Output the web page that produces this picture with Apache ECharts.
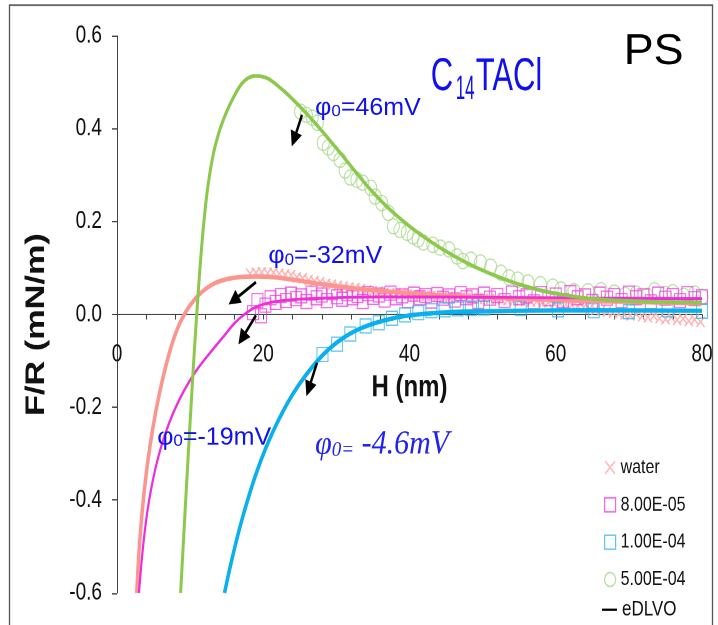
<!DOCTYPE html>
<html><head><meta charset="utf-8">
<script src="https://cdn.jsdelivr.net/npm/echarts@6/dist/echarts.min.js"></script>
<style>
html,body{margin:0;padding:0;background:#fff;overflow:hidden;width:718px;height:625px;}
#wrap{width:718px;height:625px;overflow:hidden;position:relative;background:#fff;}
#chart{width:718px;height:492px;transform:scaleY(1.2703);transform-origin:0 0;}
</style></head><body><div id="wrap"><div id="chart"></div></div>
<script>
// ---------- data ----------
const xTickValues = [0, 20, 40, 60, 80];
const yTickValues = [-0.6, -0.4, -0.2, 0.0, 0.2, 0.4, 0.6];

// eDLVO fits
const lineWaterH = [2.7, 3.1, 3.6, 4.2, 4.9, 5.7, 6.6, 7.6, 8.7, 10.0, 11.5, 13.2, 15.0, 17.0, 19.0, 21.5, 24.5, 28, 32, 36, 40, 45, 50, 60, 70, 80];
const lineWaterF = [-0.6, -0.49, -0.40, -0.318, -0.245, -0.178, -0.116, -0.06, -0.015, 0.020, 0.047, 0.066, 0.076, 0.081, 0.082, 0.080, 0.074, 0.065, 0.057, 0.051, 0.046, 0.041, 0.037, 0.031, 0.027, 0.024];

const line8e5H = [3.0, 3.5, 4.1, 4.8, 5.6, 6.6, 7.8, 9.2, 10.8, 12.6, 14.6, 16.0, 17.4, 19.0, 21, 24, 28, 32, 40, 50, 60, 70, 80];
const line8e5F = [-0.6, -0.51, -0.43, -0.365, -0.31, -0.257, -0.208, -0.163, -0.122, -0.085, -0.047, -0.02, 0.0, 0.016, 0.026, 0.032, 0.035, 0.037, 0.038, 0.037, 0.036, 0.035, 0.034];

const line1e4H = [14.7, 15.9, 17.3, 19.2, 21.4, 24.1, 27.4, 30.1, 33.3, 37.8, 42.5, 47, 55, 65, 80];
const line1e4F = [-0.6, -0.515, -0.43, -0.335, -0.25, -0.17, -0.10, -0.06, -0.03, -0.008, 0.002, 0.006, 0.008, 0.009, 0.008];

const line5e4H = [8.7, 9.5, 10.3, 10.9, 11.6, 12.3, 13.1, 14.0, 15.0, 16.0, 17.0, 18.0, 19.0, 20.0, 21, 23, 25, 27, 29, 31, 33, 35, 37, 39, 41, 43, 45, 47, 49, 51.5, 54, 56.5, 59, 62, 65, 70, 75, 80];
const line5e4F = [-0.6, -0.37, -0.15, 0.0, 0.15, 0.26, 0.34, 0.395, 0.437, 0.47, 0.496, 0.51, 0.514, 0.512, 0.505, 0.479, 0.448, 0.414, 0.377, 0.339, 0.30, 0.263, 0.231, 0.203, 0.178, 0.156, 0.136, 0.118, 0.102, 0.085, 0.07, 0.058, 0.048, 0.04, 0.034, 0.029, 0.027, 0.025];

// measured points
const waterH = [18.2,19.0,19.8,20.6,21.4,22.2,23.0,23.8,24.6,25.4,26.2,27.0,27.8,28.6,29.4,30.2,31.0,31.8,32.6,33.4,34.2,35.0,35.8,36.6,37.4,38.2,39.0,39.8,40.6,41.4,42.2,43.0,43.8,44.6,45.4,46.2,47.0,47.8,48.6,49.4,50.2,51.0,51.8,52.6,53.4,54.2,55.0,55.8,56.6,57.4,58.2,59.0,59.8,60.6,61.4,62.2,63.0,63.8,64.6,65.4,66.2,67.0,67.8,68.6,69.4,70.2,71.0,71.8,72.6,73.4,74.2,75.0,75.8,76.6,77.4,78.2,79.0,79.8];
const waterF = [0.088,0.090,0.091,0.089,0.090,0.088,0.086,0.085,0.080,0.078,0.074,0.072,0.070,0.066,0.064,0.062,0.060,0.058,0.057,0.055,0.052,0.050,0.049,0.047,0.046,0.045,0.044,0.043,0.042,0.041,0.040,0.040,0.039,0.038,0.038,0.037,0.036,0.036,0.035,0.034,0.034,0.033,0.033,0.032,0.031,0.030,0.030,0.029,0.028,0.028,0.027,0.026,0.025,0.024,0.022,0.020,0.018,0.015,0.012,0.010,0.008,0.006,0.004,0.002,0.000,-0.002,0.001,-0.004,-0.006,-0.003,-0.008,-0.010,-0.006,-0.012,-0.009,-0.014,-0.011,-0.016];

const c8e5H = [18.6,19.2,19.7,20.3,21.0,21.7,22.4,23.1,23.8,24.5,25.2,25.9,26.6,27.3,28.0,28.7,29.4,30.1,30.8,31.5,32.2,32.9,33.6,34.3,35.0,35.8,36.6,37.4,38.2,39.0,39.8,40.6,41.4,42.2,43.0,43.8,44.6,45.4,46.2,47.0,47.8,48.6,49.4,50.2,51.0,52.0,53.0,54.0,55.0,56.0,57.0,58.0,59.0,60.0,61.0,62.0,63.0,64.0,65.0,66.0,67.0,68.0,69.0,70.0,71.0,72.0,73.0,74.0,75.0,76.0,77.0,78.0,79.0,80.0];
const c8e5F = [0.004,0.030,-0.003,0.020,0.036,0.026,0.041,0.030,0.044,0.034,0.040,0.028,0.046,0.036,0.042,0.030,0.047,0.038,0.033,0.045,0.036,0.041,0.028,0.045,0.037,0.042,0.031,0.046,0.036,0.040,0.030,0.044,0.036,0.041,0.029,0.043,0.035,0.040,0.031,0.045,0.036,0.040,0.028,0.044,0.035,0.041,0.030,0.046,0.036,0.040,0.027,0.045,0.034,0.042,0.030,0.047,0.036,0.040,0.028,0.044,0.035,0.041,0.030,0.046,0.036,0.040,0.027,0.044,0.035,0.041,0.030,0.045,0.034,0.038];

const c1e4H = [28.1,30.1,31.9,34.0,35.8,37.6,39.4,41.2,43.0,44.8,46.6,48.4,50.2,55.2,60.3,65.2,70.0,75.3,80.0];
const c1e4F = [-0.086,-0.064,-0.042,-0.025,-0.018,-0.008,-0.001,0.004,0.008,0.010,0.012,0.013,0.014,0.013,0.010,0.008,0.006,0.010,0.007];

const c5e4H = [25.1,25.9,26.7,27.4,28.2,28.9,29.6,30.5,31.2,31.9,32.8,33.6,34.7,35.3,36.2,37.1,37.8,38.7,39.7,40.5,41.2,41.9,43.2,44.2,45.4,46.5,47.3,48.4,49.7,51.1,52.5,53.6,54.8,56.2,57.9,59.6,60.7,62.5,64.4,66.2,68.0,69.5,71.0,72.5,73.5,75.0,76.0,77.5,79.0,80.0];
const c5e4F = [0.437,0.430,0.424,0.413,0.370,0.360,0.348,0.333,0.310,0.295,0.290,0.284,0.273,0.254,0.240,0.219,0.190,0.182,0.176,0.168,0.162,0.155,0.150,0.144,0.140,0.125,0.115,0.118,0.112,0.103,0.090,0.080,0.075,0.069,0.065,0.060,0.054,0.050,0.050,0.052,0.047,0.042,0.045,0.040,0.052,0.044,0.048,0.040,0.045,0.038];

// annotations (data-space anchors)
const phiLabels = [
  {value: '=46mV', H: 27.1, F: 0.445},
  {value: '=-32mV', H: 20.7, F: 0.125},
  {value: '=-19mV', H: 5.5, F: -0.265}
];
const arrows = [
  {from: [25.3, 0.430], to: [23.9, 0.362]},
  {from: [19.0, 0.0695], to: [15.25, 0.0215]},
  {from: [19.0, -0.002], to: [16.6, -0.0645]},
  {from: [27.35, -0.104], to: [25.9, -0.176]}
];

// ---------- chart ----------
const FONT = "'Liberation Sans', Arial, Helvetica, sans-serif";
const BLUE = '#1010ee';
const CROSS = 'path://M0,1L1,0L5,4L9,0L10,1L6,5L10,9L9,10L5,6L1,10L0,9L4,5Z';
const pairs = (a, b) => a.map((x, i) => [x, b[i]]);
const GRID_TOP = 28.3, GRID_BOTTOM = 25.2, CH = 492;

const chart = echarts.init(document.getElementById('chart'), null, {renderer: 'canvas', devicePixelRatio: 2});

function lineSeries(H, F, color, width) {
  return {name: 'eDLVO', type: 'line', data: pairs(H, F), smooth: 0.35,
    symbol: 'none', showSymbol: false, lineStyle: {color: color, width: width}, itemStyle: {color: color},
    z: 4, silent: true, animation: false};
}
function hollow(name, H, F, symbol, size, color, z) {
  return {name: name, type: 'scatter', data: pairs(H, F), symbol: symbol, symbolSize: size,
    itemStyle: {color: 'rgba(255,255,255,0)', borderColor: color, borderWidth: 1}, z: z, silent: true};
}

// x axis sits at F = 0 (middle of the -0.6..0.6 range)
const plotH = CH - GRID_TOP - GRID_BOTTOM;
const xAxisOffset = -plotH * (0 - (-0.6)) / 1.2;

const option = {
  animation: false,
  backgroundColor: '#fff',
  grid: {left: 117, right: 16, top: GRID_TOP, bottom: GRID_BOTTOM, containLabel: false, outerBoundsMode: 'none'},
  xAxis: {
    type: 'value', min: 0, max: 80, interval: 20, position: 'bottom', offset: xAxisOffset,
    name: 'H (nm)', nameLocation: 'middle', nameGap: 45,
    nameTextStyle: {fontFamily: FONT, fontSize: 24, fontWeight: 'bold', color: '#111'},
    axisLine: {show: true, onZero: false, lineStyle: {color: '#444', width: 1}},
    axisTick: {show: true, length: 4, inside: false, lineStyle: {color: '#444'}},
    minorTick: {show: true, splitNumber: 5, length: 4, lineStyle: {color: '#444'}},
    axisLabel: {fontFamily: FONT, fontSize: 19, color: '#111', margin: 22,
      formatter: v => xTickValues.includes(v) ? String(v) : ''},
    splitLine: {show: false}
  },
  yAxis: {
    type: 'value', min: -0.6, max: 0.6, interval: 0.2,
    name: 'F/R (mN/m)', nameLocation: 'middle', nameGap: 67, nameRotate: 90,
    nameTextStyle: {fontFamily: FONT, fontSize: 27, fontWeight: 'bold', color: '#111', padding: [0, 16, 0, 0]},
    axisLine: {show: true, onZero: false, lineStyle: {color: '#444', width: 1}},
    axisTick: {show: true, length: 5, inside: false, lineStyle: {color: '#444'}},
    axisLabel: {fontFamily: FONT, fontSize: 19, color: '#111', margin: 15,
      formatter: v => {
        const t = yTickValues.find(k => Math.abs(k - v) < 1e-9);
        return t === undefined ? '' : (Math.abs(t) < 1e-9 ? '0.0' : t.toFixed(1));
      }},
    splitLine: {show: false}
  },
  legend: [
    {orient: 'vertical', left: 604, top: 359, padding: 0, itemGap: 11.4, itemWidth: 11, itemHeight: 11,
     selectedMode: false, textStyle: {fontFamily: FONT, fontSize: 16, color: '#111', lineHeight: 18},
     data: [
       {name: 'water', icon: CROSS, itemStyle: {color: '#ffb8b8', borderWidth: 0}},
       {name: '8.00E-05', icon: 'rect', itemStyle: {color: 'rgba(255,255,255,0)', borderColor: '#ee44dd', borderWidth: 1.2}},
       {name: '1.00E-04', icon: 'rect', itemStyle: {color: 'rgba(255,255,255,0)', borderColor: '#33b5ea', borderWidth: 1.2}},
       {name: '5.00E-04', icon: 'circle', itemStyle: {color: 'rgba(255,255,255,0)', borderColor: '#a5d88a', borderWidth: 1.2}}
     ]},
    {orient: 'vertical', left: 602, top: 471, padding: 0, itemWidth: 15, itemHeight: 1.8,
     selectedMode: false, textStyle: {fontFamily: FONT, fontSize: 17, color: '#111', lineHeight: 18},
     data: [{name: 'eDLVO', icon: 'rect', itemStyle: {color: '#000', borderWidth: 0}}]}
  ],
  series: [
    {name: 'water', type: 'scatter', data: pairs(waterH, waterF), symbol: CROSS, symbolSize: 9,
     itemStyle: {color: '#ffaaaa', opacity: 0.9}, z: 2, silent: true},
    hollow('5.00E-04', c5e4H, c5e4F, 'circle', 12, '#a5d88a', 2),
    lineSeries(lineWaterH, lineWaterF, '#fb958f', 3.5),
    hollow('8.00E-05', c8e5H, c8e5F, 'rect', 11, '#ee44dd', 3),
    hollow('1.00E-04', c1e4H, c1e4F, 'rect', 11, '#33b5ea', 3),
    lineSeries(line8e5H, line8e5F, '#ee2ed8', 2.2),
    lineSeries(line1e4H, line1e4F, '#0ab0ee', 3.5),
    lineSeries(line5e4H, line5e4F, '#8cc84b', 3)
  ]
};
chart.setOption(option);

// ---------- annotations ----------
const px = (H, F) => chart.convertToPixel({gridIndex: 0}, [H, F]);
const g = [];
g.push({type: 'rect', shape: {x: 9.5, y: 4, width: 703, height: 520}, style: {fill: 'none', stroke: '#555', lineWidth: 1.3}, silent: true, z: 0});

function addText(H, F, dx, dy, style, sx, sy) {
  const p = px(H, F);
  g.push({type: 'text', x: p[0] + dx, y: p[1] + dy, scaleX: sx || 1, scaleY: sy || 1, silent: true, z: 100,
    style: Object.assign({align: 'left', verticalAlign: 'middle'}, style)});
}
const phiRich = {
  p: {fontSize: 25, fontFamily: FONT, fill: BLUE, lineHeight: 25, verticalAlign: 'top'},
  s: {fontSize: 17, fontFamily: FONT, fill: BLUE, lineHeight: 12, verticalAlign: 'bottom'},
  t: {fontSize: 25, fontFamily: FONT, fill: BLUE, lineHeight: 25, verticalAlign: 'top'}
};
phiLabels.forEach(l => addText(l.H, l.F, 0, 0, {text: '{p|φ}{s|0}{t|' + l.value + '}', rich: phiRich, fill: BLUE}, 1, 0.78));

const SERIF = "'Liberation Serif', 'Times New Roman', serif";
addText(27.1, -0.28, 0, 0, {text: '{p|φ}{s|0=}{t| -4.6mV}', fill: '#2222ee', rich: {
  p: {fontSize: 30, fontFamily: SERIF, fontStyle: 'italic', fill: '#2222ee', lineHeight: 30, verticalAlign: 'top'},
  s: {fontSize: 19, fontFamily: SERIF, fontStyle: 'italic', fill: '#2222ee', lineHeight: 14, verticalAlign: 'bottom'},
  t: {fontSize: 30, fontFamily: SERIF, fontStyle: 'italic', fill: '#2222ee', lineHeight: 30, verticalAlign: 'top'}
}}, 1, 0.88);

// C14TACl
addText(42.9, 0.51, 0, 0, {text: 'C', fontFamily: FONT, fontSize: 31, fill: BLUE}, 1, 1.17);
addText(42.9, 0.51, 25, 9.4, {text: '14', fontFamily: FONT, fontSize: 17, fill: BLUE}, 1, 1.6);
addText(42.9, 0.51, 45, 0, {text: 'TACl', fontFamily: FONT, fontSize: 31, fill: BLUE}, 1, 1.17);

// PS
addText(69.3, 0.5645, 0, 0, {text: 'PS', fontFamily: FONT, fontSize: 35, fill: '#000'}, 1.28, 0.98);

// arrows
arrows.forEach(a => {
  const t0 = px(a.from[0], a.from[1]);
  const t1 = px(a.to[0], a.to[1]);
  const dx = t1[0] - t0[0], dy = t1[1] - t0[1];
  const len = Math.hypot(dx, dy);
  const ux = dx / len, uy = dy / len;
  const L = 12, W = 6;
  const bx = t1[0] - ux * L, by = t1[1] - uy * L;
  g.push({type: 'line', shape: {x1: t0[0], y1: t0[1], x2: bx + ux * 2, y2: by + uy * 2},
    style: {stroke: '#000', lineWidth: 2.4}, silent: true, z: 100});
  g.push({type: 'polygon', shape: {points: [[t1[0], t1[1]], [bx - uy * W, by + ux * W], [bx + uy * W, by - ux * W]]},
    style: {fill: '#000'}, silent: true, z: 100});
});
chart.setOption({graphic: g});
</script></body></html>
